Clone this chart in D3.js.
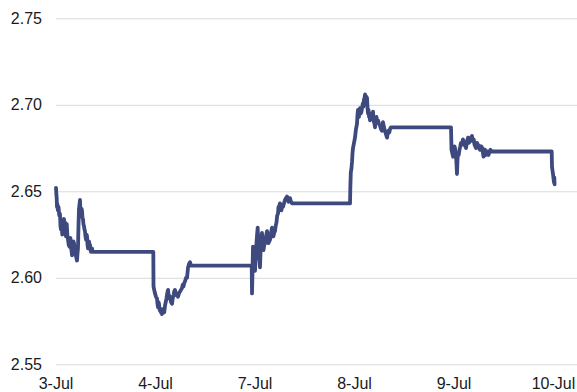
<!DOCTYPE html>
<html>
<head>
<meta charset="utf-8">
<script src="https://cdn.jsdelivr.net/npm/d3@7"></script>
<style>
  html, body { margin: 0; padding: 0; background: #fff; }
  svg { display: block; font-family: "Liberation Sans", Arial, sans-serif; }
</style>
</head>
<body>
<div id="chart"></div>
<script>
// --- Data (t = day index, fraction = time within the day) ---
const dayLabels = ["3-Jul", "4-Jul", "7-Jul", "8-Jul", "9-Jul", "10-Jul"];
const yTicks = [2.55, 2.60, 2.65, 2.70, 2.75];

const jul3 = [
  [0.005, 2.652], [0.009, 2.648], [0.012, 2.646], [0.015, 2.641], [0.018, 2.643],
  [0.024, 2.639], [0.030, 2.641], [0.038, 2.636], [0.045, 2.637], [0.050, 2.630],
  [0.055, 2.628], [0.058, 2.633], [0.062, 2.631], [0.068, 2.625], [0.075, 2.626],
  [0.080, 2.633], [0.085, 2.634], [0.090, 2.630], [0.095, 2.632], [0.100, 2.627],
  [0.105, 2.624], [0.109, 2.630], [0.113, 2.631], [0.120, 2.624], [0.126, 2.622],
  [0.133, 2.619], [0.140, 2.618], [0.145, 2.622], [0.150, 2.623], [0.158, 2.617],
  [0.166, 2.613], [0.171, 2.616], [0.176, 2.618], [0.181, 2.621], [0.186, 2.620],
  [0.193, 2.616], [0.200, 2.614], [0.208, 2.612], [0.216, 2.610], [0.221, 2.614],
  [0.226, 2.617], [0.231, 2.630], [0.236, 2.640], [0.241, 2.642], [0.246, 2.645],
  [0.251, 2.638], [0.256, 2.636], [0.261, 2.640], [0.266, 2.639], [0.271, 2.635],
  [0.276, 2.634], [0.281, 2.631], [0.286, 2.630], [0.291, 2.628], [0.296, 2.627],
  [0.301, 2.624], [0.307, 2.622], [0.312, 2.625], [0.317, 2.624], [0.322, 2.619],
  [0.327, 2.617], [0.332, 2.620], [0.337, 2.621], [0.342, 2.618], [0.347, 2.619],
  [0.352, 2.616], [0.357, 2.615], [0.362, 2.617], [0.367, 2.617], [0.372, 2.615],
  [0.377, 2.615]
];
const jul4 = [
  [0.983, 2.615], [0.985, 2.595], [0.992, 2.593], [1.000, 2.591], [1.010, 2.589],
  [1.020, 2.588], [1.025, 2.585], [1.030, 2.583], [1.035, 2.586], [1.040, 2.585],
  [1.045, 2.582], [1.050, 2.581], [1.055, 2.582], [1.060, 2.580], [1.065, 2.581],
  [1.070, 2.579], [1.078, 2.581], [1.085, 2.582], [1.093, 2.580], [1.101, 2.584],
  [1.108, 2.586], [1.115, 2.588], [1.123, 2.591], [1.131, 2.593], [1.136, 2.590],
  [1.141, 2.590], [1.146, 2.588], [1.151, 2.589], [1.161, 2.586], [1.171, 2.585],
  [1.178, 2.588], [1.186, 2.590], [1.193, 2.592], [1.201, 2.593], [1.208, 2.591],
  [1.216, 2.590], [1.223, 2.591], [1.231, 2.589], [1.241, 2.591], [1.251, 2.592],
  [1.261, 2.593], [1.271, 2.594], [1.279, 2.596], [1.286, 2.595], [1.294, 2.597],
  [1.302, 2.598], [1.312, 2.600], [1.322, 2.600], [1.327, 2.603], [1.332, 2.606],
  [1.342, 2.608], [1.352, 2.609], [1.357, 2.608], [1.362, 2.607], [1.372, 2.607]
];
const jul7 = [
  [1.972, 2.607], [1.975, 2.591], [1.980, 2.604], [1.985, 2.618], [1.990, 2.613],
  [1.995, 2.610], [2.000, 2.612], [2.005, 2.604], [2.012, 2.614], [2.020, 2.620],
  [2.026, 2.625], [2.032, 2.629], [2.038, 2.620], [2.045, 2.612], [2.050, 2.610],
  [2.055, 2.606], [2.060, 2.614], [2.065, 2.619], [2.070, 2.623], [2.075, 2.626],
  [2.082, 2.621], [2.090, 2.616], [2.098, 2.619], [2.106, 2.620], [2.116, 2.624],
  [2.126, 2.627], [2.133, 2.623], [2.140, 2.620], [2.148, 2.621], [2.156, 2.622],
  [2.166, 2.626], [2.176, 2.629], [2.183, 2.626], [2.190, 2.624], [2.198, 2.626],
  [2.206, 2.627], [2.213, 2.630], [2.221, 2.632], [2.228, 2.636], [2.236, 2.637],
  [2.241, 2.641], [2.246, 2.640], [2.251, 2.642], [2.256, 2.643], [2.263, 2.641],
  [2.271, 2.639], [2.278, 2.642], [2.286, 2.641], [2.296, 2.643], [2.306, 2.645],
  [2.316, 2.646], [2.327, 2.647], [2.334, 2.645], [2.342, 2.644], [2.350, 2.646],
  [2.357, 2.646], [2.367, 2.644], [2.377, 2.643]
];
const jul8 = [
  [2.960, 2.643], [2.963, 2.652], [2.968, 2.661], [2.974, 2.663], [2.980, 2.667],
  [2.985, 2.672], [2.990, 2.675], [3.000, 2.678], [3.010, 2.681], [3.020, 2.686],
  [3.030, 2.689], [3.035, 2.694], [3.040, 2.697], [3.045, 2.694], [3.050, 2.693],
  [3.055, 2.697], [3.060, 2.698], [3.068, 2.695], [3.075, 2.696], [3.083, 2.699],
  [3.090, 2.701], [3.095, 2.699], [3.100, 2.703], [3.106, 2.704], [3.111, 2.706],
  [3.116, 2.703], [3.121, 2.705], [3.126, 2.703], [3.131, 2.704], [3.136, 2.698],
  [3.141, 2.695], [3.146, 2.697], [3.151, 2.693], [3.156, 2.694], [3.161, 2.691],
  [3.168, 2.693], [3.176, 2.695], [3.183, 2.693], [3.191, 2.696], [3.196, 2.692],
  [3.201, 2.690], [3.206, 2.689], [3.211, 2.687], [3.218, 2.691], [3.226, 2.693],
  [3.233, 2.690], [3.241, 2.691], [3.251, 2.689], [3.261, 2.688], [3.271, 2.686],
  [3.281, 2.685], [3.286, 2.688], [3.291, 2.690], [3.301, 2.687], [3.311, 2.685],
  [3.321, 2.683], [3.332, 2.681], [3.340, 2.684], [3.347, 2.685], [3.355, 2.684],
  [3.362, 2.686], [3.372, 2.687], [3.382, 2.687]
];
const jul9 = [
  [3.975, 2.687], [3.980, 2.674], [3.988, 2.672], [3.995, 2.670], [4.000, 2.672],
  [4.005, 2.673], [4.010, 2.676], [4.015, 2.675], [4.020, 2.672], [4.025, 2.670],
  [4.030, 2.666], [4.035, 2.660], [4.040, 2.668], [4.045, 2.672], [4.052, 2.671],
  [4.060, 2.674], [4.068, 2.676], [4.075, 2.678], [4.085, 2.677], [4.095, 2.680],
  [4.103, 2.678], [4.110, 2.677], [4.118, 2.676], [4.126, 2.675], [4.136, 2.679],
  [4.146, 2.681], [4.156, 2.678], [4.166, 2.679], [4.176, 2.681], [4.186, 2.682],
  [4.191, 2.680], [4.196, 2.679], [4.203, 2.680], [4.211, 2.677], [4.218, 2.676],
  [4.226, 2.675], [4.236, 2.678], [4.246, 2.677], [4.256, 2.675], [4.266, 2.674],
  [4.278, 2.676], [4.291, 2.675], [4.296, 2.672], [4.302, 2.670], [4.310, 2.673],
  [4.317, 2.674], [4.325, 2.671], [4.332, 2.672], [4.342, 2.673], [4.352, 2.671],
  [4.362, 2.673], [4.372, 2.674], [4.382, 2.673], [4.392, 2.673]
];
const jul10 = [
  [4.987, 2.673], [4.990, 2.664], [5.000, 2.660], [5.006, 2.657], [5.010, 2.655],
  [5.013, 2.658], [5.016, 2.654]
];
const series = [jul3, jul4, jul7, jul8, jul9, jul10];

// --- Layout ---
const W = 577, H = 392;
const plotLeft = 56, plotRight = 577;

const svg = d3.select('#chart').append('svg').attr('width', W).attr('height', H);

const x = d3.scaleLinear().domain([0, 5]).range([55.5, 553]);
const y = d3.scaleLinear().domain([2.55, 2.75]).range([364.3, 18.3]);

// gridlines + y labels
const yAxis = svg.append('g')
  .attr('transform', `translate(${plotLeft},0)`)
  .call(d3.axisLeft(y).tickValues(yTicks).tickFormat(d3.format('.2f'))
    .tickSize(-(plotRight - plotLeft)).tickPadding(14));
yAxis.select('.domain').remove();
yAxis.selectAll('line').attr('stroke', '#d9d9d9').attr('stroke-width', 1);
yAxis.selectAll('text').attr('font-size', 16).attr('fill', '#1a1a1a');

// x labels
const xAxis = svg.append('g')
  .attr('transform', `translate(0,${y(2.55)})`)
  .call(d3.axisBottom(x).tickValues(d3.range(dayLabels.length))
    .tickFormat(i => dayLabels[i]).tickSize(0).tickPadding(13));
xAxis.select('.domain').remove();
xAxis.selectAll('text').attr('font-size', 16).attr('fill', '#1a1a1a');

// line
const line = d3.line().x(d => x(d[0])).y(d => y(d[1]));
svg.append('path')
  .datum(series.flat())
  .attr('d', line)
  .attr('fill', 'none')
  .attr('stroke', '#3e4a7e')
  .attr('stroke-width', 3.8)
  .attr('stroke-linejoin', 'round')
  .attr('stroke-linecap', 'round');
</script>
</body>
</html>
